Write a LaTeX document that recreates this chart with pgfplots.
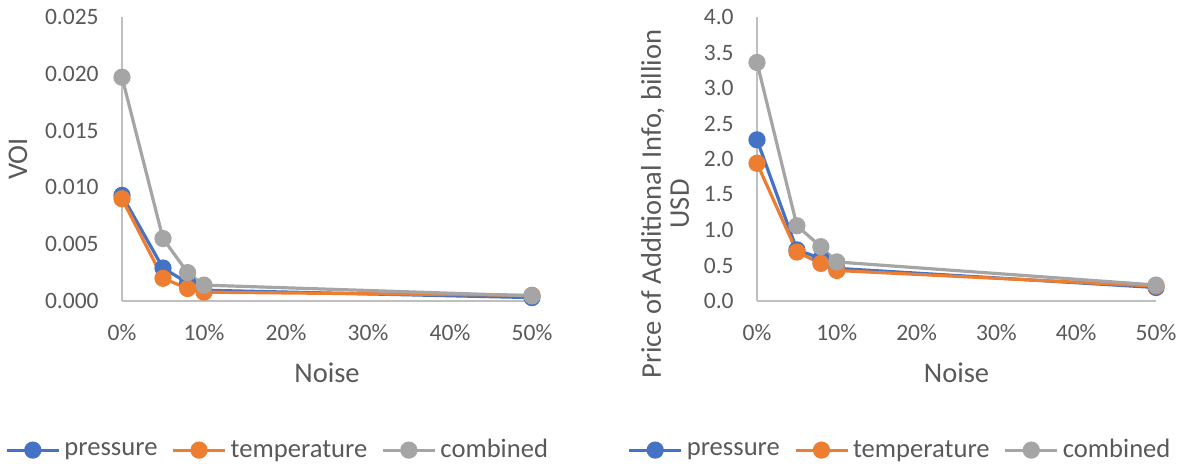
\documentclass[border=0pt]{standalone}
\usepackage{fontspec}
\setmainfont{Carlito}
\usepackage{pgfplots}
\pgfplotsset{compat=1.18}

\definecolor{cPres}{HTML}{4472C4}
\definecolor{cTemp}{HTML}{ED7D31}
\definecolor{cComb}{HTML}{A5A5A5}
\definecolor{txt}{HTML}{595959}
\definecolor{axl}{HTML}{BFBFBF}

\pgfplotsset{
  noiseplot/.style={
    scale only axis,
    height=142pt,
    axis x line=bottom, axis y line=left,
    axis line style={axl, line width=0.8pt, -},
    every outer x axis line/.append style={-},
    every outer y axis line/.append style={-},
    xmin=0, xmax=50, ymin=0,
    scaled y ticks=false,
    xtick={0,10,20,30,40,50},
    xticklabels={0\%,10\%,20\%,30\%,40\%,50\%},
    major tick length=0pt,
    tick style={draw=none},
    ticklabel style={font=\fontsize{11.75}{14}\selectfont, text=txt, inner sep=0pt},
    xticklabel style={anchor=center, yshift=-15.8pt},
    yticklabel style={anchor=east, xshift=-11.5pt},
    label style={font=\fontsize{14.25}{14}\selectfont, text=txt},
    xlabel={Noise},
    xlabel style={at={(axis description cs:0.5,0)}, anchor=center, yshift=-35.9pt},
    legend columns=3,
    legend style={draw=none, fill=none, font=\fontsize{13.3}{15}\selectfont,
      text=txt, anchor=center,
      /tikz/every even column/.append style={column sep=5pt}},
    legend image code/.code={\draw[mark repeat=2,mark phase=2,##1]
      plot coordinates {(0pt,0pt)(13pt,0pt)(26pt,0pt)};},
    every axis plot/.append style={line width=1.6pt, mark=*, mark size=3.5pt},
    clip=false,
  },
  pres/.style={cPres, mark options={fill=cPres, draw=cPres}},
  temp/.style={cTemp, mark options={fill=cTemp, draw=cTemp}},
  comb/.style={cComb, mark options={fill=cComb, draw=cComb}},
}

\begin{document}
\begin{tikzpicture}
\path[use as bounding box] (0,0) rectangle (591pt,231.5pt);

% Value of information against noise level
\begin{axis}[noiseplot,
  at={(61pt,81pt)}, anchor=south west, width=205pt,
  ymax=0.025,
  ytick={0,0.005,0.01,0.015,0.02,0.025},
  yticklabels={0.000,0.005,0.010,0.015,0.020,0.025},
  ylabel={VOI},
  ylabel style={at={(axis description cs:0,0.5)}, anchor=center, yshift=52pt},
  legend style={at={(0.382,-0.525)}},
]
\addplot[pres] coordinates {(0,0.0093) (5,0.0029) (8,0.0016) (10,0.00095) (50,0.0003)};
\addplot[temp] coordinates {(0,0.0090) (5,0.0020) (8,0.0011) (10,0.00078) (50,0.0005)};
\addplot[comb] coordinates {(0,0.0197) (5,0.0055) (8,0.0025) (10,0.0014) (50,0.00045)};
\legend{pressure, temperature, combined}
\end{axis}

% Price of the additional information against noise level
\begin{axis}[noiseplot,
  at={(378.5pt,81pt)}, anchor=south west, width=199.5pt,
  ymax=4,
  ytick={0,0.5,1,1.5,2,2.5,3,3.5,4},
  yticklabels={0.0,0.5,1.0,1.5,2.0,2.5,3.0,3.5,4.0},
  ylabel={Price of Additional Info, billion\\USD},
  ylabel style={align=center, at={(axis description cs:0,0.342)}, anchor=center, yshift=46pt},
  legend style={at={(0.361,-0.525)}},
]
\addplot[pres] coordinates {(0,2.27) (5,0.72) (8,0.60) (10,0.46) (50,0.19)};
\addplot[temp] coordinates {(0,1.94) (5,0.69) (8,0.53) (10,0.43) (50,0.21)};
\addplot[comb] coordinates {(0,3.36) (5,1.06) (8,0.765) (10,0.55) (50,0.225)};
\legend{pressure, temperature, combined}
\end{axis}
\end{tikzpicture}
\end{document}
